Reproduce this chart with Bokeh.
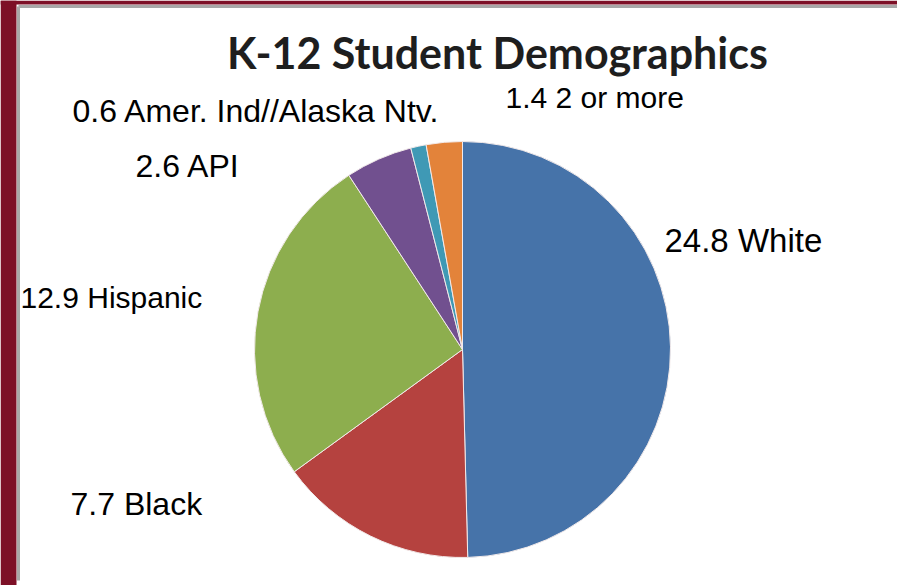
import numpy as np
from bokeh.plotting import figure
from bokeh.models import Range1d, ColumnDataSource
from bokeh.core.properties import value
from bokeh.embed import file_html
from bokeh.resources import INLINE

# Data (clockwise from 12 o'clock)
groups = ["White", "Black", "Hispanic", "API", "Amer. Ind//Alaska Ntv.", "2 or more"]
amounts = [24.8, 7.7, 12.9, 2.6, 0.6, 1.4]
colors = ["#4673A9", "#B5423F", "#8DAE4E", "#71508F", "#3F99B5", "#E3833A"]
title_text = "K-12 Student Demographics"

W, H = 897, 585
# label placement: left x, middle y (pixels from top-left), font size
label_pos = {
    "White": (664, 240, 33),
    "Black": (70, 503, 32),
    "Hispanic": (20, 297, 30),
    "API": (135, 165, 32),
    "Amer. Ind//Alaska Ntv.": (72, 110, 32),
    "2 or more": (505, 97, 30),
}

cx, cy, r = 462, 349, 208

total = sum(amounts)
cum = np.concatenate([[0], np.cumsum(amounts)])
start = np.pi / 2 - 2 * np.pi * cum[:-1] / total
end = np.pi / 2 - 2 * np.pi * cum[1:] / total

src = ColumnDataSource(dict(start=start, end=end, color=colors))

p = figure(width=W, height=H, output_backend="svg", toolbar_location=None,
           x_range=Range1d(0, W), y_range=Range1d(0, H), min_border=0,
           background_fill_color="white", border_fill_color="white")
p.axis.visible = False
p.grid.visible = False
p.outline_line_color = None

# frame
p.quad(left=0, right=16, bottom=0, top=H, fill_color="#7D1027", line_color=None)
p.quad(left=0, right=W, bottom=H - 4, top=H, fill_color="#7D1027", line_color=None)
p.segment(x0=[18, 18], y0=[H - 6, 5], x1=[W, 18], y1=[H - 6, H - 6],
          line_color="#A8A8A8", line_width=3)

p.wedge(x=cx, y=H - cy, radius=r, start_angle="start", end_angle="end",
        direction="clock", fill_color="color", line_color="#F2EAEA", line_width=1,
        source=src)

for a, g in zip(amounts, groups):
    lx, ly, fs = label_pos[g]
    p.text(x=[lx], y=[H - ly], text=[f"{a} {g}"], text_font=value("Liberation Sans"),
           text_font_size=f"{fs}px", text_align="left", text_baseline="middle",
           text_color="black")

p.text(x=[497], y=[H - 52], text=[title_text], text_font=value("Lato"),
       text_font_style="bold", text_font_size="43px", text_align="center",
       text_baseline="middle", text_color="#1E1E1E")

open("out.html", "w").write(file_html(p, INLINE))
